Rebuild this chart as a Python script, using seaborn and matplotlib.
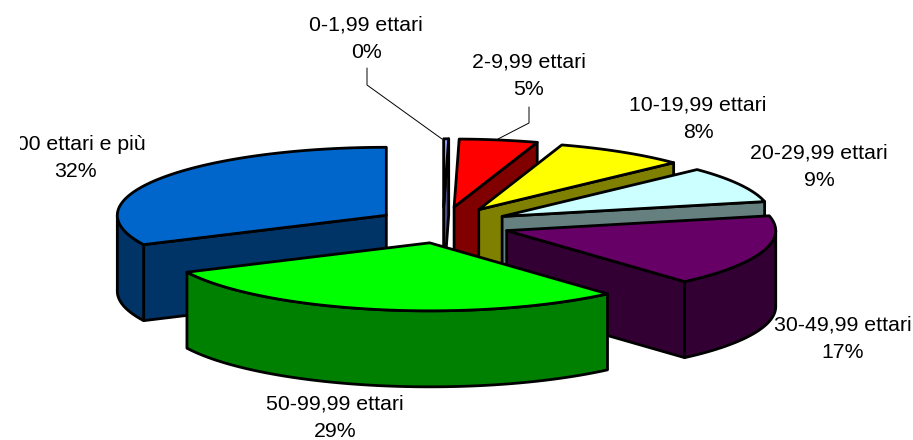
import numpy as np
import matplotlib
matplotlib.use("Agg")
import matplotlib.pyplot as plt
from matplotlib.patches import Rectangle
import seaborn as sns

# shares, clockwise from 12 o'clock
classes = ["0-1,99 ettari", "2-9,99 ettari", "10-19,99 ettari", "20-29,99 ettari",
           "30-49,99 ettari", "50-99,99 ettari", "100 ettari e più"]
shares = [0.3, 4.7, 7.9, 8.6, 17.0, 29.4, 32.1]
top_colors = ["#9999FF", "#FF0000", "#FFFF00", "#CCFFFF", "#660066", "#00FF00", "#0066CC"]

# pie layout in pixels
cx, cy = 443, 225
rx, ry = 269, 68
explode_x, explode_y = 67, 18.2
depth = 76
edge = dict(edgecolor="black", linewidth=2.0, joinstyle="round")

label_xy = [(366, 39), (529, 76), (698, 119), (819, 167), (843, 339), (335, 418), (75, 158)]

sns.set_theme(style="white")
plt.rcParams["font.family"] = ["Liberation Sans", "DejaVu Sans"]

fig = plt.figure(figsize=(9.13, 4.4), dpi=100)
ax = fig.add_axes([0, 0, 1, 1])
ax.set_xlim(0, 913)
ax.set_ylim(440, 0)
ax.axis("off")

tops = sns.color_palette(top_colors)
sides = [tuple(c * 0.5 for c in col) for col in tops]
ends = np.cumsum(shares) / np.sum(shares) * 360
starts = np.r_[0, ends[:-1]]


def rim(x0, y0, a, b):
    t = np.radians(np.linspace(a, b, max(int(b - a) * 2, 2)))
    return x0 + rx * np.sin(t), y0 - ry * np.cos(t)


def cut_face(x0, y0, ang, color):
    x1, y1 = rim(x0, y0, ang, ang)
    x1, y1 = x1[0], y1[0]
    ax.fill([x0, x1, x1, x0], [y0, y1, y1 + depth, y0 + depth], facecolor=color, **edge)


# blue goes first so the rest of the pie paints over it
order = [6, 0, 1, 2, 3, 4, 5]
for i in order:
    s, e = starts[i], ends[i]
    mid = np.radians((s + e) / 2)
    x0 = cx + explode_x * np.sin(mid)
    y0 = cy - explode_y * np.cos(mid)

    if np.sin(np.radians(s)) < 0:
        cut_face(x0, y0, s, sides[i])
    if np.sin(np.radians(e)) > 1e-6:
        cut_face(x0, y0, e, sides[i])
    lo, hi = max(s, 90), min(e, 270)
    if lo < hi:
        xr, yr = rim(x0, y0, lo, hi)
        ax.fill(np.r_[xr, xr[::-1]], np.r_[yr, yr[::-1] + depth], facecolor=sides[i], **edge)

    xr, yr = rim(x0, y0, s, e)
    ax.fill(np.r_[x0, xr], np.r_[y0, yr], facecolor=tops[i], **edge)

# leader lines of the two small slices
ax.plot([367, 367, 442], [68, 85, 139], color="black", lw=0.7)
ax.plot([529, 529, 498], [107, 123, 139], color="black", lw=0.7)

clip = Rectangle((20, 0), 893, 440, transform=ax.transData)
for name, share, (x, y) in zip(classes, shares, label_xy):
    txt = ax.text(x, y, f"{name}\n{round(share):d}%", ha="center", va="center",
                  fontsize=15.3, color="black", linespacing=1.54)
    txt.set_clip_path(clip)
    txt.set_clip_on(True)

fig.savefig("out.png", dpi=100)
